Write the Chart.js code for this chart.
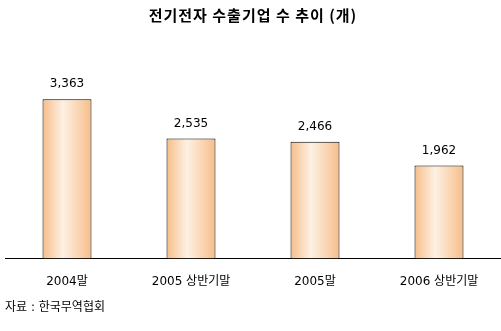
<!DOCTYPE html>
<html>
<head>
<meta charset="utf-8">
<script src="https://cdn.jsdelivr.net/npm/chart.js@4"></script>
<style>
  html, body { margin: 0; padding: 0; background: #fff; }
  #wrap { width: 501px; height: 331px; }
</style>
</head>
<body>
<div id="wrap"><canvas id="chart"></canvas></div>
<script>
// chart data
const periods = ['2004말', '2005 상반기말', '2005말', '2006 상반기말'];
const exporters = [3363, 2535, 2466, 1962];
const chartTitle = '전기전자 수출기업 수 추이 (개)';
const sourceNote = '자료 : 한국무역협회';

const fontStack = "'DejaVu Sans', 'Noto Sans CJK KR', sans-serif";
const barPct = 0.395;

// horizontal peach gradient for each bar
function barFill(ctx) {
  const chart = ctx.chart;
  const area = chart.chartArea;
  const xScale = chart.scales.x;
  if (!area || !xScale) return '#f9d3ae';
  const cx = xScale.getPixelForValue(ctx.dataIndex);
  const w = (area.right - area.left) / periods.length * barPct;
  const g = chart.ctx.createLinearGradient(cx - w / 2, 0, cx + w / 2, 0);
  g.addColorStop(0, '#f7bd89');
  g.addColorStop(0.42, '#fdf1e4');
  g.addColorStop(1, '#f7bd89');
  return g;
}

// title, value labels and source note
const textPlugin = {
  id: 'texts',
  afterDraw(chart) {
    const c = chart.ctx;
    c.save();
    c.fillStyle = '#000';
    c.textBaseline = 'middle';

    c.font = "bold 15px 'Noto Sans CJK KR', sans-serif";
    c.letterSpacing = '1px';
    c.textAlign = 'center';
    c.fillText(chartTitle, 253, 15);
    c.letterSpacing = '0px';

    c.font = '12px ' + fontStack;
    const meta = chart.getDatasetMeta(0);
    meta.data.forEach((bar, i) => {
      c.fillText(exporters[i].toLocaleString('en-US'), bar.x, bar.y - 15);
    });

    c.textAlign = 'left';
    c.fillText(sourceNote, 5, 308);
    c.restore();
  }
};

const ctx = document.getElementById('chart').getContext('2d');

new Chart(ctx, {
  type: 'bar',
  data: {
    labels: periods,
    datasets: [{
      data: exporters,
      backgroundColor: barFill,
      borderColor: '#000',
      borderWidth: 1,
      barPercentage: barPct,
      categoryPercentage: 1
    }]
  },
  options: {
    responsive: true,
    maintainAspectRatio: false,
    animation: false,
    layout: {
      padding: { top: 69, left: 5, right: 0, bottom: 26 }
    },
    plugins: {
      legend: { display: false },
      tooltip: { enabled: false }
    },
    scales: {
      y: {
        display: false,
        min: 0,
        max: 4000
      },
      x: {
        grid: { display: false, drawTicks: false },
        border: { display: true, color: '#000', width: 1 },
        ticks: {
          color: '#000',
          padding: 16,
          font: { family: fontStack, size: 12 }
        }
      }
    }
  },
  plugins: [textPlugin]
});
</script>
</body>
</html>
